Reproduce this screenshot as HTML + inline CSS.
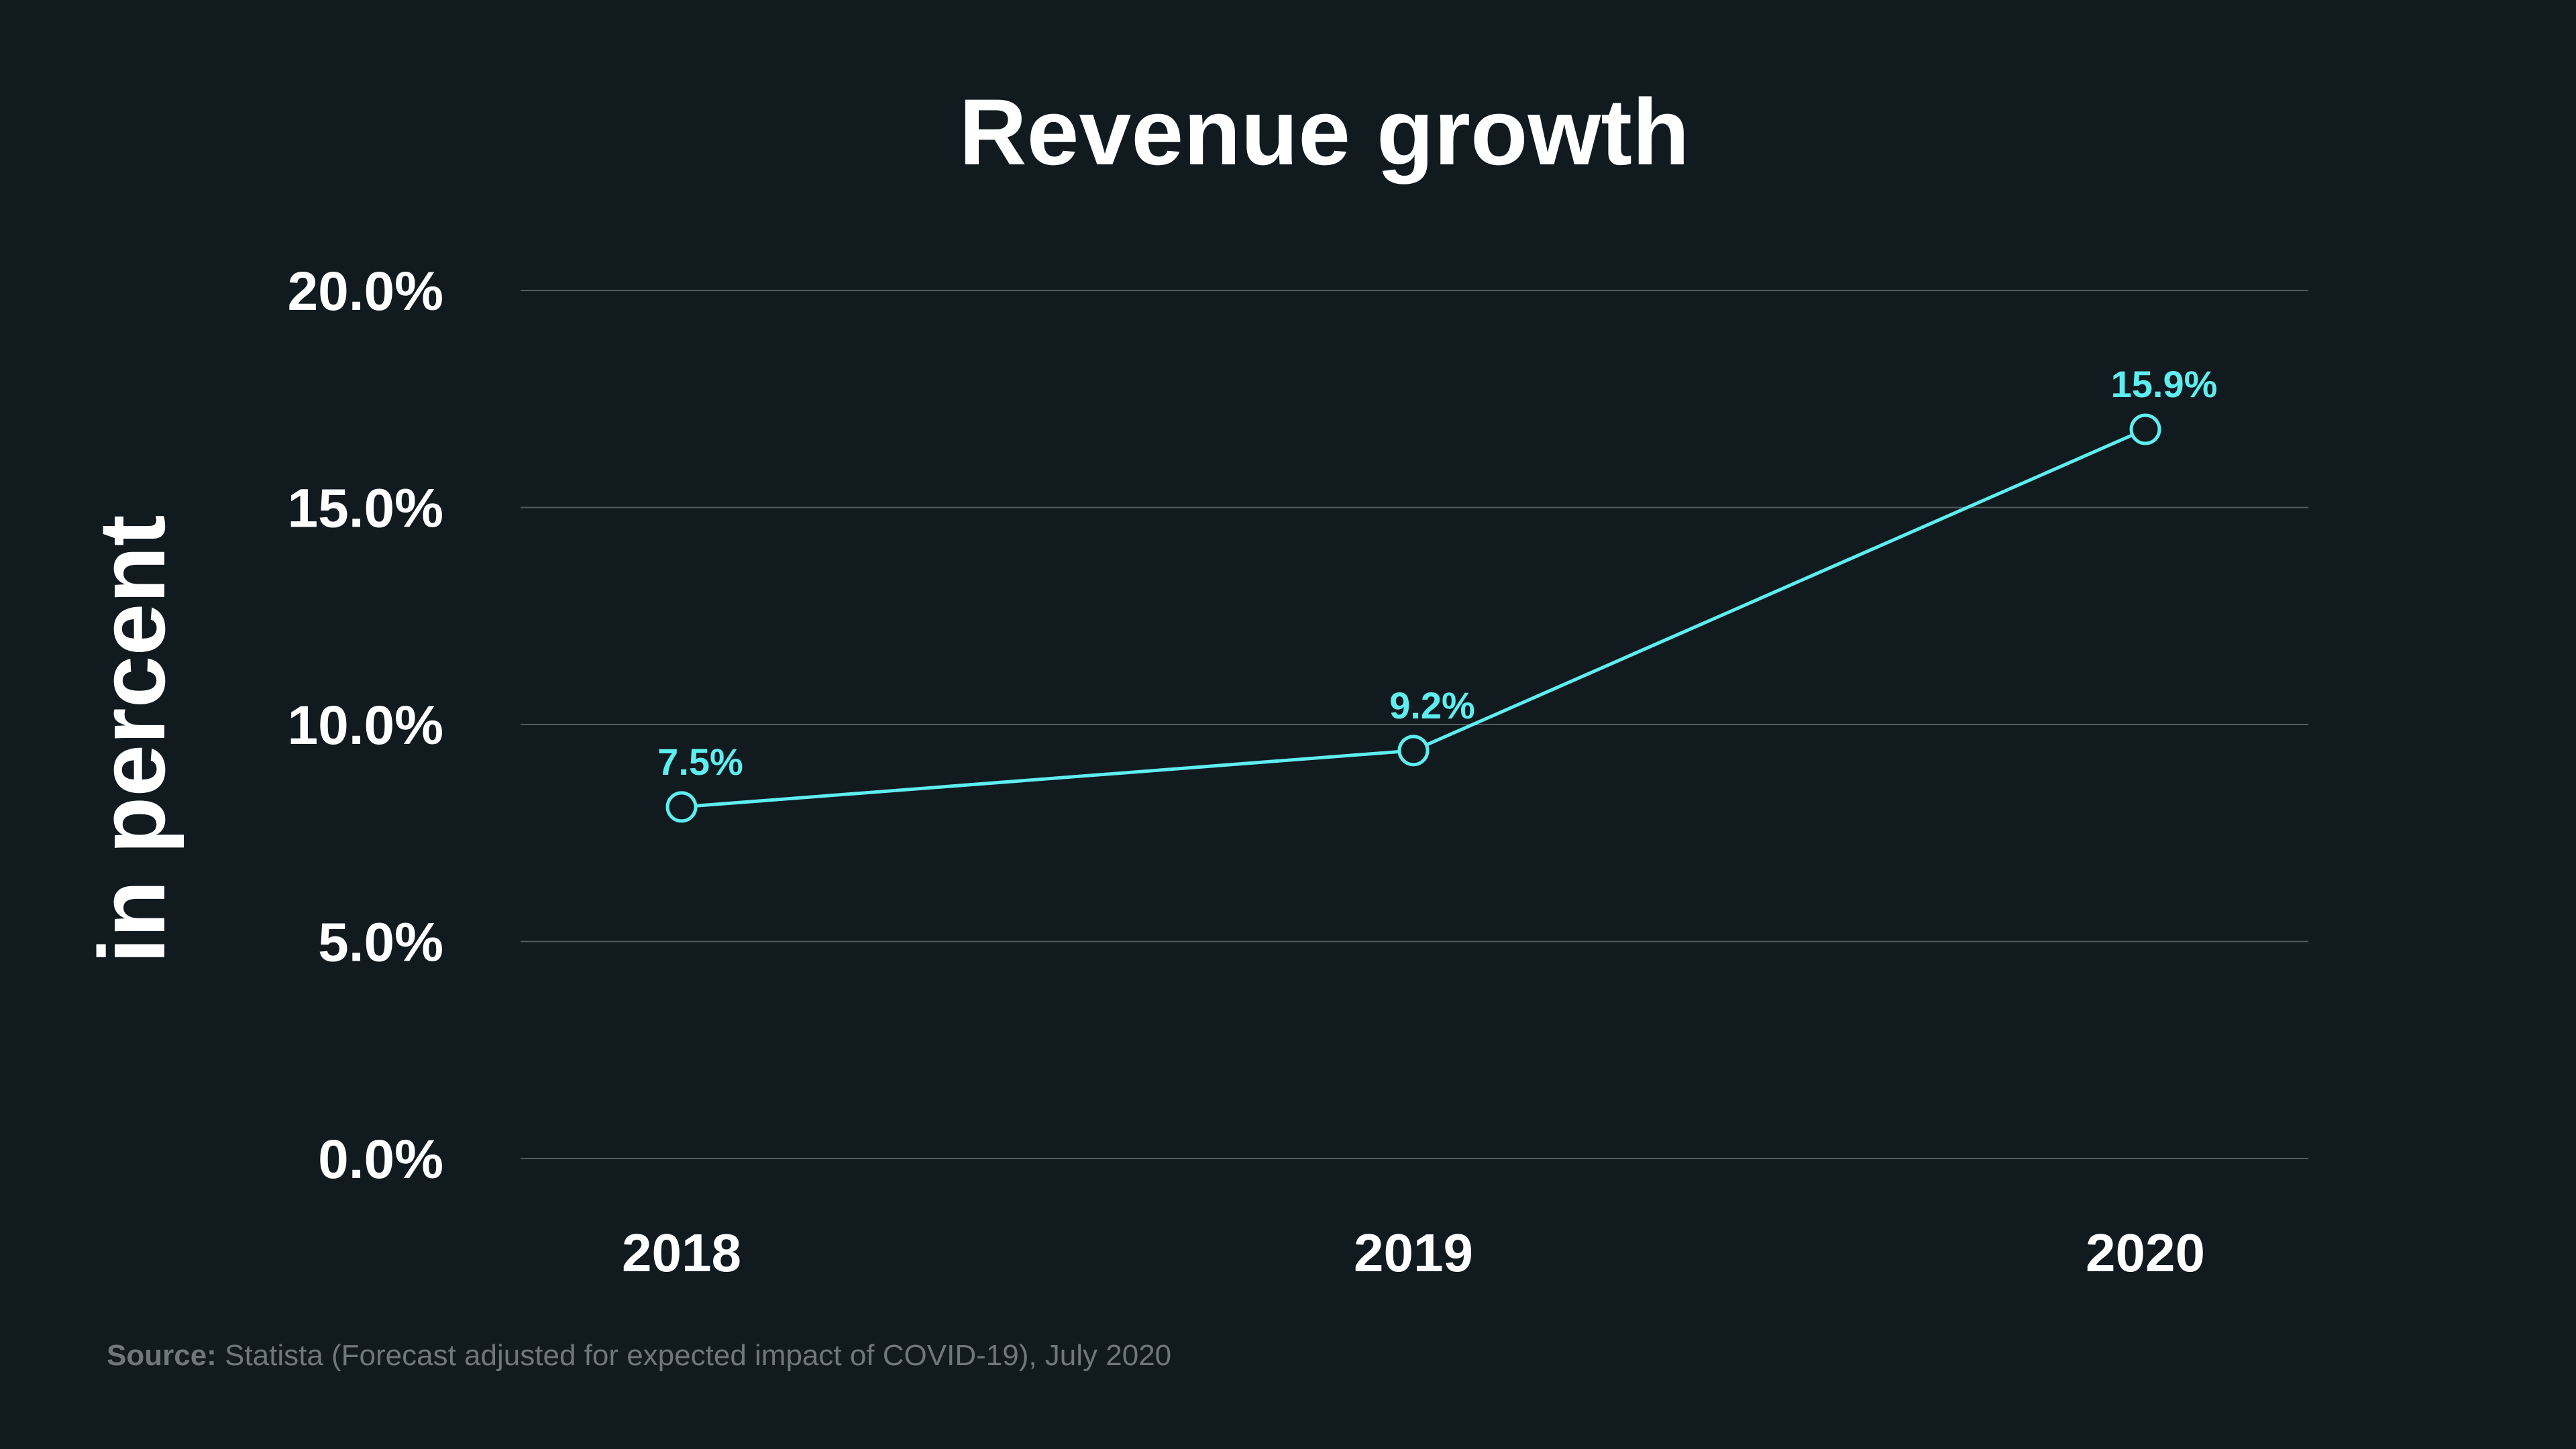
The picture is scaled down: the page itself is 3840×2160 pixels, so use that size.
<!DOCTYPE html>
<html><head><meta charset="utf-8">
<style>
html,body{margin:0;padding:0;background:#101a1f;}
svg{display:block;}
text{font-family:"Liberation Sans",Arial,sans-serif;}
</style></head>
<body>
<svg id="chart" width="3840" height="2160" viewBox="0 0 3840 2160" xmlns="http://www.w3.org/2000/svg">
<rect width="3840" height="2160" fill="#101a1f"/>
<text x="1974" y="245" text-anchor="middle" font-size="140" font-weight="bold" fill="#ffffff">Revenue growth</text>
<text transform="translate(245,1102) rotate(-90)" text-anchor="middle" font-size="140" font-weight="bold" fill="#ffffff">in percent</text>
<g id="grid"></g>
<g id="yticks"></g>
<g id="xticks"></g>
<g id="series"></g>
<text x="159" y="2035" font-size="44" fill="#6f777c"><tspan font-weight="bold">Source:</tspan> Statista (Forecast adjusted for expected impact of COVID-19), July 2020</text>
</svg>
<script>
const categories = ["2018", "2019", "2020"];
const values = [8.1, 9.4, 16.8];
const valueLabels = ["7.5%", "9.2%", "15.9%"];
const yTicks = [0, 5, 10, 15, 20];
const yTickLabels = ["0.0%", "5.0%", "10.0%", "15.0%", "20.0%"];

const NS = "http://www.w3.org/2000/svg";
const plotLeft = 776, plotRight = 3441, yTop = 433, yBottom = 1727;
const xStart = 1016, xEnd = 3198;
function yScale(v){ return yBottom - (v - 0) / (20 - 0) * (yBottom - yTop); }
function xScale(i){ return xStart + i * (xEnd - xStart) / (categories.length - 1); }
function mk(tag, attrs, parent){
  const el = document.createElementNS(NS, tag);
  for (const k in attrs) el.setAttribute(k, attrs[k]);
  parent.appendChild(el);
  return el;
}
const grid = document.getElementById('grid');
const yt = document.getElementById('yticks');
yTicks.forEach((t, i) => {
  const y = yScale(t);
  const ln = mk('line', {x1: plotLeft, x2: plotRight, y1: y, y2: y, stroke: '#525b60', 'stroke-width': 2}, grid);
  
  
  const tx = mk('text', {x: 661, y: y + 29, 'text-anchor': 'end', 'font-size': 82, 'font-weight': 'bold', fill: '#ffffff'}, yt);
  tx.textContent = yTickLabels[i];
  
  
});
const xt = document.getElementById('xticks');
categories.forEach((c, i) => {
  const tx = mk('text', {x: xScale(i), y: 1895, 'text-anchor': 'middle', 'font-size': 80, 'font-weight': 'bold', fill: '#ffffff'}, xt);
  tx.textContent = c;
  
  
});
const series = document.getElementById('series');
const pts = values.map((v, i) => xScale(i) + ',' + yScale(v)).join(' ');
const line = mk('polyline', {points: pts, fill: 'none', stroke: '#5eeef0', 'stroke-width': 5}, series);


values.forEach((v, i) => {
  const c = mk('circle', {cx: xScale(i), cy: yScale(v), r: 21, fill: '#101a1f', stroke: '#5eeef0', 'stroke-width': 5}, series);
  
  
  const t = mk('text', {x: xScale(i) + 28, y: yScale(v) - 48, 'text-anchor': 'middle', 'font-size': 56, 'font-weight': 'bold', fill: '#5eeef0'}, series);
  t.textContent = valueLabels[i];
  
  
});
</script>
</body></html>
